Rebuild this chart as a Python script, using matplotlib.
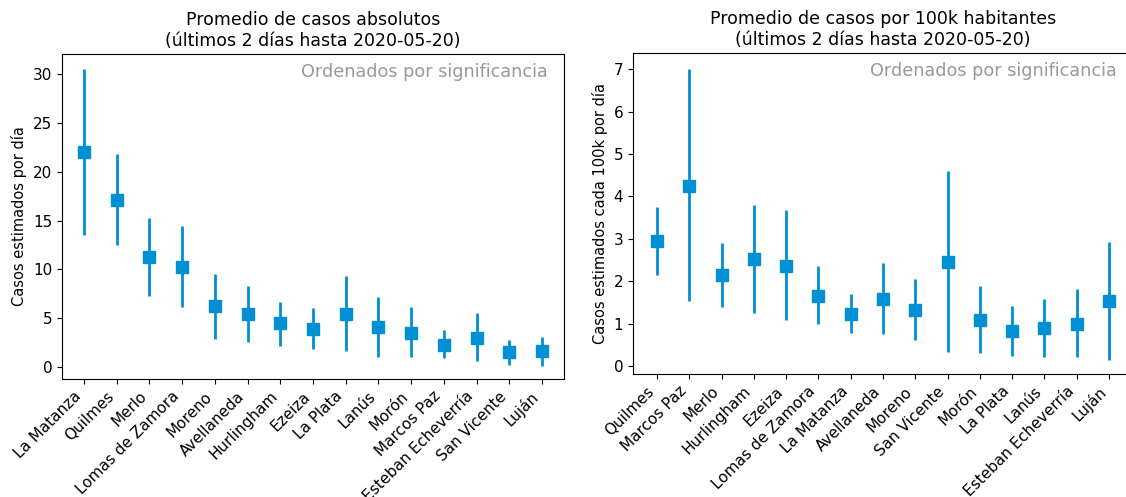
import numpy as np
import matplotlib
matplotlib.use('Agg')
import matplotlib.pyplot as plt

# Casos absolutos
abs_partidos = ['La Matanza', 'Quilmes', 'Merlo', 'Lomas de Zamora', 'Moreno', 'Avellaneda',
                'Hurlingham', 'Ezeiza', 'La Plata', 'Lanús', 'Morón', 'Marcos Paz',
                'Esteban Echeverría', 'San Vicente', 'Luján']
abs_media = [22.0, 17.1, 11.3, 10.2, 6.2, 5.4, 4.5, 3.9, 5.4, 4.1, 3.5, 2.3, 3.0, 1.5, 1.6]
abs_low = [13.5, 12.5, 7.3, 6.1, 2.9, 2.6, 2.2, 1.8, 1.6, 1.0, 1.0, 0.9, 0.6, 0.2, 0.15]
abs_high = [30.5, 21.8, 15.3, 14.4, 9.5, 8.3, 6.7, 6.0, 9.3, 7.2, 6.1, 3.8, 5.5, 2.8, 3.1]

# Casos por 100k habitantes
rel_partidos = ['Quilmes', 'Marcos Paz', 'Merlo', 'Hurlingham', 'Ezeiza', 'Lomas de Zamora',
                'La Matanza', 'Avellaneda', 'Moreno', 'San Vicente', 'Morón', 'La Plata',
                'Lanús', 'Esteban Echeverría', 'Luján']
rel_media = [2.95, 4.25, 2.15, 2.52, 2.35, 1.65, 1.23, 1.58, 1.33, 2.45, 1.08, 0.83, 0.9, 1.0, 1.53]
rel_low = [2.15, 1.52, 1.38, 1.25, 1.08, 0.98, 0.78, 0.75, 0.62, 0.33, 0.3, 0.24, 0.22, 0.2, 0.13]
rel_high = [3.75, 7.0, 2.9, 3.8, 3.67, 2.35, 1.7, 2.43, 2.05, 4.6, 1.88, 1.42, 1.58, 1.82, 2.93]

color = '#008fd5'


def panel(ax, nombres, media, low, high, titulo, ylabel, margen):
    x = np.arange(len(nombres))
    media = np.array(media)
    yerr = [media - np.array(low), np.array(high) - media]
    ax.errorbar(x, media, yerr=yerr, fmt='s', color=color, ecolor=color,
                elinewidth=2, markersize=8, capsize=0)
    ax.set_xticks(x)
    ax.set_xticklabels(nombres, rotation=45, ha='right', fontsize=11)
    ax.set_xlim(-margen, len(nombres) - 1 + margen)
    ax.tick_params(axis='y', labelsize=11)
    ax.set_title(titulo, fontsize=12.5)
    ax.set_ylabel(ylabel, fontsize=10.5)
    ax.annotate('Ordenados por significancia', xy=(1, 1), xycoords='axes fraction',
                xytext=(-16, -9), textcoords='offset pixels',
                ha='right', va='top', color='#999999', fontsize=12.7)


fig = plt.figure(figsize=(11.26, 4.97), dpi=100)
ax1 = fig.add_axes([62 / 1126, 1 - 379 / 497, 502 / 1126, 325 / 497])
ax2 = fig.add_axes([633 / 1126, 1 - 374 / 497, 500 / 1126, 321 / 497])

panel(ax1, abs_partidos, abs_media, abs_low, abs_high,
      'Promedio de casos absolutos\n(últimos 2 días hasta 2020-05-20)',
      'Casos estimados por día', 0.67)
ax1.set_ylim(-1.23, 32.05)

panel(ax2, rel_partidos, rel_media, rel_low, rel_high,
      'Promedio de casos por 100k habitantes\n(últimos 2 días hasta 2020-05-20)',
      'Casos estimados cada 100k por día', 0.74)
ax2.set_ylim(-0.19, 7.38)

fig.savefig('out.png', dpi=100)
